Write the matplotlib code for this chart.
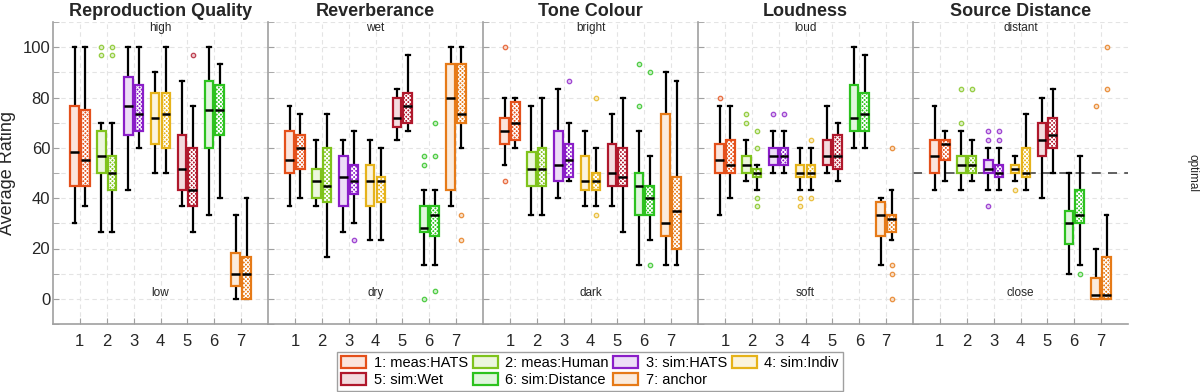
import matplotlib
matplotlib.use('Agg')
import matplotlib.pyplot as plt
import numpy as np
from matplotlib.patches import Patch, PathPatch
from matplotlib.colors import to_rgb

plt.rcParams['font.family'] = ['Liberation Sans', 'DejaVu Sans']
plt.rcParams['hatch.linewidth'] = 0.8

conditions = ['1: meas:HATS', '2: meas:Human', '3: sim:HATS', '4: sim:Indiv',
              '5: sim:Wet', '6: sim:Distance', '7: anchor']
colors = ['#e4501b', '#7fc31c', '#8a1ec8', '#e6b31a', '#b0182c', '#2dc21f', '#e67a17']
titles = ['Reproduction Quality', 'Reverberance', 'Tone Colour', 'Loudness', 'Source Distance']
top_words = ['high', 'wet', 'bright', 'loud', 'distant']
bottom_words = ['low', 'dry', 'dark', 'soft', 'close']

# rows: whislo, q1, median, q3, whishi  (plain = left box, hatched = right box)
quality_plain = [
    [30, 45, 58.3, 76.7, 100],
    [26.7, 50, 56.7, 66.7, 70],
    [43.3, 65, 76.7, 88.3, 100],
    [50, 61.7, 71.7, 81.7, 90],
    [36.7, 43.3, 51.7, 65, 86.7],
    [33.3, 60, 75, 86.7, 100],
    [0, 5, 10, 18.3, 33.3],
]
quality_hatched = [
    [36.7, 45, 55, 75, 100],
    [26.7, 43.3, 50, 56.7, 70],
    [60, 66.7, 73.3, 85, 100],
    [50, 60, 73.3, 81.7, 100],
    [26.7, 36.7, 43.3, 60, 76.7],
    [40, 65, 75, 85, 93.3],
    [0, 0, 10, 16.7, 40],
]
quality_fl_plain = [[], [100, 96.7], [], [], [], [], []]
quality_fl_hatched = [[], [100, 96.7], [], [], [96.7], [], []]

reverb_plain = [
    [36.7, 50, 55, 66.7, 76.7],
    [36.7, 40, 46.7, 51.7, 63.3],
    [26.7, 36.7, 48.3, 56.7, 63.3],
    [23.3, 36.7, 46.7, 53.3, 63.3],
    [63.3, 68.3, 71.7, 80, 83.3],
    [13.3, 26.7, 28.3, 36.7, 43.3],
    [36.7, 43.3, 80, 93.3, 100],
]
reverb_hatched = [
    [40, 51.7, 60, 65, 73.3],
    [16.7, 38.3, 45, 60, 73.3],
    [30, 41.7, 46.7, 53.3, 66.7],
    [23.3, 38.3, 46.7, 48.3, 60],
    [66.7, 70, 76.7, 81.7, 96.7],
    [13.3, 25, 33.3, 36.7, 43.3],
    [60, 70, 73.3, 93.3, 100],
]
reverb_fl_plain = [[], [], [], [], [], [56.7, 53.3, 0], []]
reverb_fl_hatched = [[], [], [23.3], [], [], [70, 56.7, 3.3], [33.3, 23.3]]

tone_plain = [
    [53.3, 61.7, 66.7, 71.7, 80],
    [33.3, 45, 51.7, 58.3, 76.7],
    [40, 46.7, 53.3, 66.7, 83.3],
    [36.7, 43.3, 46.7, 56.7, 66.7],
    [36.7, 45, 50, 61.7, 73.3],
    [13.3, 33.3, 45, 50, 66.7],
    [13.3, 25, 30, 73.3, 90],
]
tone_hatched = [
    [60, 63.3, 70, 78.3, 80],
    [33.3, 45, 51.7, 60, 80],
    [46.7, 48.3, 55, 61.7, 70],
    [36.7, 43.3, 46.7, 50, 60],
    [26.7, 45, 48.3, 60, 80],
    [23.3, 33.3, 40, 45, 56.7],
    [13.3, 20, 35, 48.3, 86.7],
]
tone_fl_plain = [[100, 46.7], [], [], [], [], [93.3, 76.7], []]
tone_fl_hatched = [[], [], [86.7], [80, 33.3], [], [90, 13.3], []]

loud_plain = [
    [33.3, 50, 55, 61.7, 76.7],
    [46.7, 50, 53.3, 56.7, 63.3],
    [50, 53.3, 56.7, 60, 66.7],
    [43.3, 48.3, 50, 53.3, 60],
    [50, 53.3, 56.7, 63.3, 76.7],
    [60, 66.7, 71.7, 85, 100],
    [13.3, 25, 33.3, 38.3, 40],
]
loud_hatched = [
    [40, 50, 53.3, 63.3, 76.7],
    [43.3, 48.3, 50, 51.7, 53.3],
    [50, 53.3, 56.7, 60, 66.7],
    [43.3, 48.3, 50, 53.3, 60],
    [46.7, 51.7, 56.7, 65, 70],
    [60, 66.7, 73.3, 81.7, 96.7],
    [23.3, 26.7, 31.7, 33.3, 43.3],
]
loud_fl_plain = [[80], [73.3, 70], [73.3], [40, 36.7], [], [], []]
loud_fl_hatched = [[], [66.7, 60, 40, 36.7], [73.3], [63.3, 40], [], [], [60, 13.3, 10, 0]]

dist_plain = [
    [43.3, 50, 56.7, 63.3, 76.7],
    [43.3, 50, 53.3, 56.7, 66.7],
    [43.3, 50, 51.7, 55, 60],
    [46.7, 50, 51.7, 53.3, 56.7],
    [40, 56.7, 63.3, 70, 80],
    [10, 21.7, 30, 35, 50],
    [0, 0, 1.7, 8.3, 20],
]
dist_hatched = [
    [46.7, 55, 61.7, 63.3, 66.7],
    [46.7, 50, 53.3, 56.7, 63.3],
    [43.3, 48.3, 50, 53.3, 60],
    [43.3, 48.3, 50, 60, 73.3],
    [50, 60, 65, 71.7, 83.3],
    [13.3, 30, 33.3, 43.3, 56.7],
    [0, 0, 1.7, 16.7, 33.3],
]
dist_fl_plain = [[], [83.3, 70], [66.7, 63.3, 36.7], [43.3], [], [], [76.7]]
dist_fl_hatched = [[], [83.3], [66.7, 63.3], [], [], [10], [100, 83.3]]

panels = [
    (quality_plain, quality_hatched, quality_fl_plain, quality_fl_hatched),
    (reverb_plain, reverb_hatched, reverb_fl_plain, reverb_fl_hatched),
    (tone_plain, tone_hatched, tone_fl_plain, tone_fl_hatched),
    (loud_plain, loud_hatched, loud_fl_plain, loud_fl_hatched),
    (dist_plain, dist_hatched, dist_fl_plain, dist_fl_hatched),
]


def tint(c, a=0.15):
    return tuple(1 - a + a * np.array(to_rgb(c)))


def draw_box(ax, row, fl, pos, color, hatched):
    st = dict(whislo=row[0], q1=row[1], med=row[2], q3=row[3], whishi=row[4], fliers=fl)
    if hatched:
        bprops = dict(facecolor=color, edgecolor='white', hatch='xxxxxxxx', linewidth=0, zorder=3)
    else:
        bprops = dict(facecolor=tint(color), edgecolor=color, linewidth=1.6, zorder=3)
    out = ax.bxp([st], positions=[pos], widths=0.32, patch_artist=True, capwidths=0.14,
                 boxprops=bprops,
                 medianprops=dict(color='black', linewidth=1.8, zorder=4),
                 whiskerprops=dict(color='black', linewidth=1.6, zorder=2.5),
                 capprops=dict(color='black', linewidth=1.6, zorder=2.5),
                 flierprops=dict(marker='o', markersize=3.2, markeredgewidth=0.9,
                                 markeredgecolor=color, markerfacecolor=tint(color, 0.3),
                                 alpha=0.8, zorder=3),
                 manage_ticks=False)
    if hatched:
        box = out['boxes'][0]
        ax.add_patch(PathPatch(box.get_path(), facecolor='none', edgecolor=color,
                               linewidth=1.6, zorder=3.1))


fig = plt.figure(figsize=(12, 3.92), dpi=100)
axes = []
for i in range(5):
    ax = fig.add_axes([(53 + 215 * i) / 1200, 1 - 324 / 392, 215 / 1200, 302 / 392])
    axes.append(ax)
    plain, hatched, fl_p, fl_h = panels[i]
    for k in range(7):
        draw_box(ax, plain[k], fl_p[k], k + 1 - 0.2, colors[k], False)
        draw_box(ax, hatched[k], fl_h[k], k + 1 + 0.2, colors[k], True)

    ax.set_xlim(0, 8)
    ax.set_ylim(-10, 110)
    ax.set_xticks(range(1, 8))
    ax.set_yticks(range(0, 101, 20))
    ax.set_yticks(range(-10, 111, 20), minor=True)
    ax.grid(True, which='both', linestyle=(0, (4, 3)), color='#e4e4e4', linewidth=0.8)
    ax.set_axisbelow(True)
    for s in ['top', 'right']:
        ax.spines[s].set_visible(False)
    for s in ['left', 'bottom']:
        ax.spines[s].set_color('#a0a0a0')
        ax.spines[s].set_linewidth(1.2)
    ax.tick_params(which='both', direction='in', color='#a0a0a0', length=4,
                   labelcolor='#262626', labelsize=12)
    ax.tick_params(axis='x', pad=7)
    ax.tick_params(axis='y', pad=2)
    if i > 0:
        ax.tick_params(axis='y', labelleft=False)
    ax.set_title(titles[i], fontsize=13, fontweight='bold', pad=4, color='#262626')
    ax.text(4, 107.5, top_words[i], ha='center', va='center', fontsize=8.5, color='#262626')
    ax.text(4, 2.5, bottom_words[i], ha='center', va='center', fontsize=8.5, color='#262626')

axes[0].set_ylabel('Average Rating', fontsize=13, labelpad=5, color='#262626')
axes[4].axhline(50, color='#555555', linestyle=(0, (5, 4)), linewidth=1.3, zorder=1.5)
axes[4].text(10.4, 50, 'optimal', rotation=-90, ha='center', va='center',
             fontsize=8.5, color='#262626', clip_on=False)

handles = [Patch(facecolor=tint(c), edgecolor=c, linewidth=1.6) for c in colors]
order = [0, 4, 1, 5, 2, 6, 3]
fig.legend([handles[j] for j in order], [conditions[j] for j in order], ncol=4,
           loc='upper center', bbox_to_anchor=(590 / 1200, 1 - 352 / 392),
           fontsize=10.5, fancybox=False, edgecolor='#a0a0a0', framealpha=1,
           handlelength=1.7, handleheight=0.9, handletextpad=0.5, columnspacing=0.35,
           labelspacing=0.15, borderpad=0.3, borderaxespad=0)

fig.savefig('out.png', dpi=100)
